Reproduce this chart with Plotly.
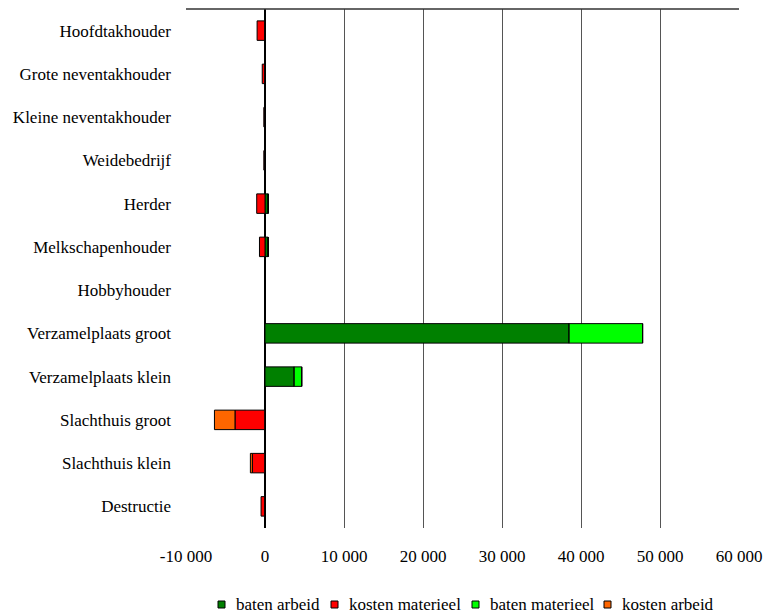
import plotly.graph_objects as go

# Categories, top to bottom
categories = [
    "Hoofdtakhouder",
    "Grote neventakhouder",
    "Kleine neventakhouder",
    "Weidebedrijf",
    "Herder",
    "Melkschapenhouder",
    "Hobbyhouder",
    "Verzamelplaats groot",
    "Verzamelplaats klein",
    "Slachthuis groot",
    "Slachthuis klein",
    "Destructie",
]

baten_arbeid = [0, 0, 0, 0, 400, 400, 0, 38500, 3700, 0, 0, 0]
kosten_materieel = [-1000, -350, -150, -150, -1050, -700, 0, 0, 0, -3800, -1600, -500]
baten_materieel = [0, 0, 0, 0, 0, 0, 0, 9300, 950, 0, 0, 0]
kosten_arbeid = [0, 0, 0, 0, 0, 0, 0, 0, 0, -2600, -250, 0]

x_ticks = [-10000, 0, 10000, 20000, 30000, 40000, 50000, 60000]
x_tick_labels = ["-10 000", "0", "10 000", "20 000", "30 000", "40 000", "50 000", "60 000"]

series_names = ["baten arbeid", "kosten materieel", "baten materieel", "kosten arbeid"]
series_values = [baten_arbeid, kosten_materieel, baten_materieel, kosten_arbeid]
series_colors = ["#008000", "#ff0000", "#00ff00", "#ff6600"]

# Figure geometry (pixels)
W, H = 766, 614
M_L, M_R, M_T, M_B = 186, 27, 9, 86
PLOT_W = W - M_L - M_R
PLOT_H = H - M_T - M_B

# Legend row below the axis: left edge of each swatch, in pixels from the figure's left
legend_swatch_px = [218, 331, 472, 604]
legend_row_y_px = 604.5
swatch_size = 7
swatch_text_gap = 9

font = dict(family="Liberation Serif, Times New Roman, serif", size=17, color="#000000")

fig = go.Figure()
for name, vals, color in zip(series_names, series_values, series_colors):
    fig.add_trace(go.Bar(
        y=categories,
        x=vals,
        name=name,
        orientation="h",
        marker=dict(color=color, line=dict(color="#000000", width=1)),
    ))


def px_to_paper_x(px):
    return (px - M_L) / PLOT_W


def px_to_paper_y(py):
    return (H - M_B - py) / PLOT_H


shapes = [
    # frame line along the top of the plotting area
    dict(type="line", xref="paper", yref="paper", x0=0, x1=1, y0=1, y1=1,
         line=dict(color="#333333", width=1.5)),
]
annotations = []
legend_y = px_to_paper_y(legend_row_y_px)
for name, color, sx in zip(series_names, series_colors, legend_swatch_px):
    shapes.append(dict(
        type="rect", xref="paper", yref="paper",
        xsizemode="pixel", ysizemode="pixel",
        xanchor=px_to_paper_x(sx), yanchor=legend_y,
        x0=0, x1=swatch_size, y0=-swatch_size / 2, y1=swatch_size / 2,
        fillcolor=color, line=dict(color="#000000", width=1),
    ))
    annotations.append(dict(
        xref="paper", yref="paper",
        x=px_to_paper_x(sx + swatch_size + swatch_text_gap), y=legend_y,
        xanchor="left", yanchor="middle",
        text=name, showarrow=False, font=font,
    ))

fig.update_layout(
    barmode="relative",
    bargap=0.55,
    width=W,
    height=H,
    margin=dict(l=M_L, r=M_R, t=M_T, b=M_B, autoexpand=False),
    plot_bgcolor="#ffffff",
    paper_bgcolor="#ffffff",
    font=font,
    showlegend=False,
    xaxis=dict(
        range=[-10000, 60000],
        tickvals=x_ticks,
        ticktext=x_tick_labels,
        showgrid=True,
        gridcolor="#555555",
        gridwidth=1,
        zeroline=True,
        zerolinecolor="#000000",
        zerolinewidth=1.5,
        showline=False,
        ticks="",
        ticklabelstandoff=16,
        fixedrange=True,
    ),
    yaxis=dict(
        categoryorder="array",
        categoryarray=categories[::-1],
        showgrid=False,
        showline=False,
        ticks="",
        ticklabelstandoff=14,
        fixedrange=True,
    ),
    shapes=shapes,
    annotations=annotations,
)

fig.write_html("out.html")
